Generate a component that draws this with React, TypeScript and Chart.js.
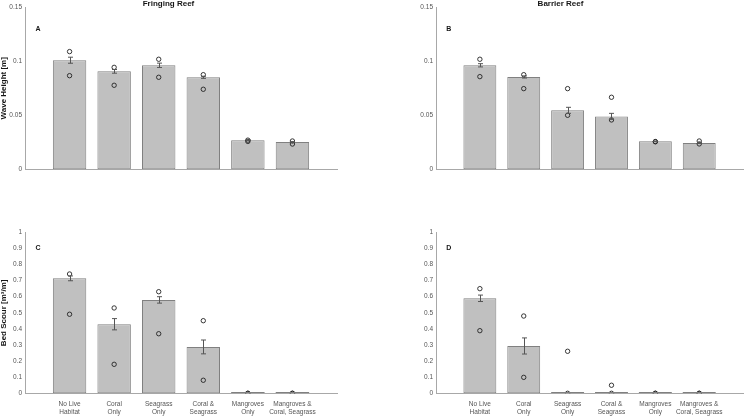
import React, { useEffect, useRef } from "react";
import { Chart, registerables } from "chart.js";

Chart.register(...registerables);

// ---------- data ----------
const categoryLabels: string[][] = [
  ["No Live", "Habitat"],
  ["Coral", "Only"],
  ["Seagrass", "Only"],
  ["Coral &", "Seagrass"],
  ["Mangroves", "Only"],
  ["Mangroves &", "Coral, Seagrass"],
];
const categoryPositions = [1, 2, 3, 4, 5, 6];

const waveTicks = [0, 0.05, 0.1, 0.15];
const scourTicks = [0, 0.1, 0.2, 0.3, 0.4, 0.5, 0.6, 0.7, 0.8, 0.9, 1];

const fringingWaveMean = [0.101, 0.0907, 0.0963, 0.0852, 0.0269, 0.0253];
const fringingWaveErr = [0.0028, 0.0017, 0.002, 0.001, 0.0003, 0.0003];
const fringingWaveHigh = [0.109, 0.0944, 0.1019, 0.0876, 0.027, 0.0262];
const fringingWaveLow = [0.0867, 0.0778, 0.0852, 0.0741, 0.0258, 0.0234];

const barrierWaveMean = [0.0963, 0.0855, 0.0546, 0.049, 0.0259, 0.0244];
const barrierWaveErr = [0.0015, 0.001, 0.0028, 0.0028, 0.0003, 0.0003];
const barrierWaveHigh = [0.1019, 0.0876, 0.0747, 0.0667, 0.0257, 0.0262];
const barrierWaveLow = [0.0858, 0.0747, 0.05, 0.0457, 0.0255, 0.0235];

const fringingScourMean = [0.714, 0.429, 0.58, 0.288, 0, 0];
const fringingScourErr = [0.015, 0.035, 0.02, 0.043, 0, 0];
const fringingScourHigh = [0.741, 0.53, 0.631, 0.451, 0, 0];
const fringingScourLow = [0.491, 0.18, 0.37, 0.081, 0, 0];

const barrierScourMean = [0.59, 0.294, 0, 0, 0, 0];
const barrierScourErr = [0.02, 0.05, 0, 0, 0, 0];
const barrierScourHigh = [0.65, 0.48, 0.261, 0.05, 0, 0];
const barrierScourLow = [0.389, 0.099, 0, 0, 0, 0];

// ---------- styling ----------
const FONT = "'Liberation Sans', Arial, Helvetica, sans-serif";
const AXIS_COLOR = "#a8a8a8";
const TICK_COLOR = "#555555";
const TEXT_COLOR = "#151515";
const BAR_BORDER = "#808080";

type PanelSpec = {
  left: number;
  top: number;
  width: number;
  height: number;
  title?: string;
  yTitle?: string;
  letter: string;
  letterY: number;
  yMax: number;
  yTicks: number[];
  means: number[];
  errs: number[];
  high: number[];
  low: number[];
  showXLabels: boolean;
  yWidth: number;
  padTop: number;
  padRight: number;
  xHeight: number;
};

const panels: PanelSpec[] = [
  {
    left: 0, top: 0, width: 374, height: 200,
    title: "Fringing Reef", yTitle: "Wave Height [m]", letter: "A", letterY: 0.13,
    yMax: 0.15, yTicks: waveTicks,
    means: fringingWaveMean, errs: fringingWaveErr, high: fringingWaveHigh, low: fringingWaveLow,
    showXLabels: false, yWidth: 25, padTop: 0, padRight: 37, xHeight: 30.7,
  },
  {
    left: 374, top: 0, width: 374, height: 200,
    title: "Barrier Reef", letter: "B", letterY: 0.13,
    yMax: 0.15, yTicks: waveTicks,
    means: barrierWaveMean, errs: barrierWaveErr, high: barrierWaveHigh, low: barrierWaveLow,
    showXLabels: false, yWidth: 62, padTop: 0, padRight: 1, xHeight: 30.7,
  },
  {
    left: 0, top: 200, width: 374, height: 218,
    yTitle: "Bed Scour [m\u00B3/m]", letter: "C", letterY: 0.9,
    yMax: 1, yTicks: scourTicks,
    means: fringingScourMean, errs: fringingScourErr, high: fringingScourHigh, low: fringingScourLow,
    showXLabels: true, yWidth: 25, padTop: 32.3, padRight: 37, xHeight: 24.7,
  },
  {
    left: 374, top: 200, width: 374, height: 218,
    letter: "D", letterY: 0.9,
    yMax: 1, yTicks: scourTicks,
    means: barrierScourMean, errs: barrierScourErr, high: barrierScourHigh, low: barrierScourLow,
    showXLabels: true, yWidth: 62, padTop: 32.3, padRight: 1, xHeight: 24.7,
  },
];

function makeOverlayPlugin(spec: PanelSpec) {
  return {
    id: "overlay" + spec.letter,
    afterDatasetsDraw(chart: any) {
      const { ctx } = chart;
      const xs = chart.scales.x;
      const ys = chart.scales.y;
      const barMeta = chart.getDatasetMeta(0);
      ctx.save();
      // zero-height bars still show their outline along the baseline
      ctx.strokeStyle = BAR_BORDER;
      ctx.lineWidth = 1;
      spec.means.forEach((m, i) => {
        if (m !== 0) return;
        const el = barMeta.data[i];
        if (!el) return;
        const y0 = Math.round(ys.getPixelForValue(0)) - 0.5;
        ctx.beginPath();
        ctx.moveTo(el.x - el.width / 2, y0);
        ctx.lineTo(el.x + el.width / 2, y0);
        ctx.stroke();
      });
      ctx.strokeStyle = "#555555";
      spec.means.forEach((m, i) => {
        const e = spec.errs[i];
        if (!e) return;
        const px = Math.round(xs.getPixelForValue(categoryPositions[i])) + 0.5;
        const y1 = ys.getPixelForValue(m + e);
        const y2 = ys.getPixelForValue(m - e);
        ctx.beginPath();
        ctx.moveTo(px, y1);
        ctx.lineTo(px, y2);
        ctx.moveTo(px - 2.5, y1);
        ctx.lineTo(px + 2.5, y1);
        ctx.moveTo(px - 2.5, y2);
        ctx.lineTo(px + 2.5, y2);
        ctx.stroke();
      });
      ctx.restore();
    },
    afterDraw(chart: any) {
      const { ctx } = chart;
      const xs = chart.scales.x;
      const ys = chart.scales.y;
      ctx.save();
      ctx.fillStyle = TEXT_COLOR;
      ctx.font = `bold 7px ${FONT}`;
      ctx.textAlign = "center";
      ctx.textBaseline = "middle";
      ctx.fillText(spec.letter, xs.getPixelForValue(0.29), ys.getPixelForValue(spec.letterY));
      ctx.restore();
    },
  };
}

function Panel({ spec }: { spec: PanelSpec }) {
  const ref = useRef<HTMLCanvasElement>(null);
  useEffect(() => {
    if (!ref.current) return;
    const barData = categoryPositions.map((x, i) => ({ x, y: spec.means[i] }));
    const pointData = [
      ...categoryPositions.map((x, i) => ({ x, y: spec.high[i] })),
      ...categoryPositions.map((x, i) => ({ x, y: spec.low[i] })),
    ];
    const chart = new Chart(ref.current, {
      type: "bar",
      data: {
        datasets: [
          {
            type: "bar",
            data: barData as any,
            backgroundColor: "#c0c0c0",
            borderColor: BAR_BORDER,
            borderWidth: 1,
            borderSkipped: false,
            barPercentage: 0.75,
            categoryPercentage: 1,
            order: 2,
          } as any,
          {
            type: "scatter",
            data: pointData as any,
            pointRadius: 2.2,
            pointBorderWidth: 0.9,
            pointBorderColor: "#222222",
            pointBackgroundColor: "rgba(0,0,0,0)",
            showLine: false,
            order: 1,
          } as any,
        ],
      },
      options: {
        animation: false,
        responsive: false,
        devicePixelRatio: 1,
        events: [],
        layout: { padding: { top: spec.padTop, right: spec.padRight, left: 0, bottom: 0 } },
        plugins: {
          legend: { display: false },
          tooltip: { enabled: false },
          title: {
            display: !!spec.title,
            text: spec.title || "",
            color: TEXT_COLOR,
            font: { family: FONT, size: 8, weight: "bold", lineHeight: 7.3 / 8 },
            padding: 0,
          },
        },
        scales: {
          x: {
            type: "linear",
            min: 0,
            max: 7,
            offset: false,
            grid: { display: false, drawTicks: false, offset: false },
            border: { display: true, color: AXIS_COLOR, width: 1 },
            afterBuildTicks: (scale: any) => {
              scale.ticks = categoryPositions.map((v) => ({ value: v }));
            },
            afterFit: (scale: any) => {
              scale.height = spec.xHeight;
            },
            ticks: {
              display: spec.showXLabels,
              autoSkip: false,
              maxRotation: 0,
              minRotation: 0,
              padding: 7,
              color: TICK_COLOR,
              font: { family: FONT, size: 6.5 },
              callback: (v: any) => categoryLabels[Number(v) - 1] || "",
            },
          },
          y: {
            type: "linear",
            min: 0,
            max: spec.yMax,
            grid: { display: false, drawTicks: false },
            border: { display: true, color: AXIS_COLOR, width: 1 },
            afterBuildTicks: (scale: any) => {
              scale.ticks = spec.yTicks.map((v) => ({ value: v }));
            },
            afterFit: (scale: any) => {
              scale.width = spec.yWidth;
            },
            title: {
              display: !!spec.yTitle,
              text: spec.yTitle || "",
              color: TEXT_COLOR,
              font: { family: FONT, size: 8, weight: "bold", lineHeight: 1 },
              padding: 0,
            },
            ticks: {
              padding: 3,
              color: TICK_COLOR,
              font: { family: FONT, size: 6.5 },
              callback: (v: any) => String(Math.round(Number(v) * 1000) / 1000),
            },
          },
        },
      },
      plugins: [makeOverlayPlugin(spec)],
    } as any);
    return () => chart.destroy();
  }, [spec]);
  return (
    <canvas
      ref={ref}
      width={spec.width}
      height={spec.height}
      style={{ position: "absolute", left: spec.left, top: spec.top, width: spec.width, height: spec.height }}
    />
  );
}

export default function App() {
  return (
    <div style={{ position: "fixed", left: 0, top: 0, width: 748, height: 418, background: "#ffffff", overflow: "hidden" }}>
      {panels.map((p) => (
        <Panel key={p.letter} spec={p} />
      ))}
    </div>
  );
}
